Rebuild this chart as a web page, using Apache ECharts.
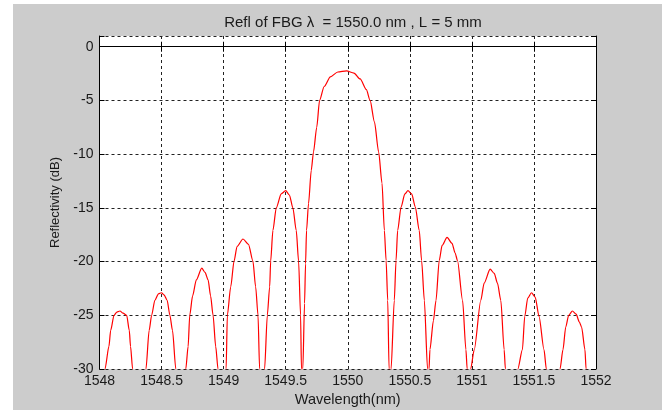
<!DOCTYPE html>
<html>
<head>
<meta charset="utf-8">
<script src="https://cdn.jsdelivr.net/npm/echarts@6/dist/echarts.min.js"></script>
<style>
  html, body { margin: 0; padding: 0; background: #fff; }
  #chart { position: absolute; left: 13px; top: 4px; width: 649px; height: 406px; }
</style>
</head>
<body>
<div id="chart"></div>
<script>
// wavelength (nm) and reflectivity (dB), read lobe by lobe off the plot;
// the -45 points are the nulls that fall below the -30 dB floor
var wavelength = [
  1548.02,
  1548.044, 1548.076, 1548.09, 1548.117, 1548.14, 1548.165, 1548.19, 1548.219, 1548.24, 1548.25, 1548.267,
  1548.32,
  1548.374, 1548.40, 1548.42, 1548.446, 1548.475, 1548.50, 1548.52, 1548.545, 1548.567, 1548.588, 1548.615,
  1548.655,
  1548.695, 1548.714, 1548.727, 1548.75, 1548.78, 1548.824, 1548.85, 1548.875, 1548.895, 1548.915, 1548.936, 1548.955,
  1548.985,
  1549.02, 1549.03, 1549.057, 1549.084, 1549.108, 1549.156, 1549.2, 1549.236, 1549.258, 1549.277, 1549.29,
  1549.31,
  1549.33, 1549.352, 1549.371, 1549.379, 1549.397, 1549.424, 1549.464, 1549.50, 1549.53, 1549.558, 1549.585, 1549.604, 1549.62, 1549.627,
  1549.632,
  1549.638, 1549.652, 1549.66, 1549.668, 1549.684, 1549.706, 1549.724, 1549.75, 1549.773, 1549.81, 1549.86, 1549.92,
  1549.99, 1550.05, 1550.10, 1550.15, 1550.18, 1550.215, 1550.249, 1550.276, 1550.295, 1550.309, 1550.322, 1550.333,
  1550.34,
  1550.349, 1550.375, 1550.389, 1550.402, 1550.43, 1550.46, 1550.485, 1550.515, 1550.544, 1550.576, 1550.595, 1550.617, 1550.643,
  1550.648,
  1550.655, 1550.662, 1550.69, 1550.711, 1550.737, 1550.76, 1550.80, 1550.84, 1550.865, 1550.884, 1550.925, 1550.952, 1550.962,
  1550.975,
  1550.99, 1551.019, 1551.072, 1551.099, 1551.147, 1551.18, 1551.206, 1551.233, 1551.26, 1551.27,
  1551.32,
  1551.37, 1551.407, 1551.426, 1551.45, 1551.48, 1551.51, 1551.541, 1551.581, 1551.60,
  1551.655,
  1551.71, 1551.734, 1551.756, 1551.78, 1551.81, 1551.84, 1551.865, 1551.884, 1551.911, 1551.92,
  1551.96
];
var reflectivity = [
  -45,
  -30, -27.9, -26.4, -25, -24.7, -24.6, -24.8, -25, -26.4, -27.9, -30,
  -45,
  -30, -26.4, -25, -23.6, -23.0, -22.9, -23.1, -23.6, -25, -26.4, -30,
  -45,
  -30, -27.9, -25, -23.2, -21.7, -20.6, -21.0, -21.7, -23.2, -25, -27.9, -30,
  -45,
  -30, -25, -22.35, -19.95, -18.6, -17.9, -18.4, -19.95, -22.35, -25, -30,
  -45,
  -30, -25, -22.35, -19.95, -17.1, -15.0, -13.7, -13.4, -13.8, -15.0, -17.1, -19.95, -25, -30,
  -45,
  -30, -23.9, -20.2, -17.1, -14.6, -11.5, -9.8, -7.5, -5.0, -3.7, -2.8, -2.35,
  -2.25, -2.45, -3.0, -4.0, -5.0, -7.0, -9.8, -12.7, -17.1, -19.9, -23.6, -30,
  -45,
  -30, -23.6, -19.9, -17.1, -14.9, -13.7, -13.4, -13.7, -14.9, -17.1, -19.9, -23.6, -30,
  -45,
  -30, -28.2, -25.5, -23.6, -19.9, -18.5, -17.75, -18.3, -19.2, -19.9, -23.6, -28.2, -30,
  -45,
  -30, -28.2, -23.6, -22.0, -20.7, -21.1, -22.0, -23.6, -28.2, -30,
  -45,
  -30, -28.2, -25.1, -23.4, -22.9, -23.3, -25.1, -28.2, -30,
  -45,
  -30, -28.2, -26.1, -25.0, -24.6, -24.9, -25.6, -26.1, -28.2, -30,
  -45
];

var points = wavelength.map(function (w, i) { return [w, reflectivity[i]]; });

var font = '"Liberation Sans", Arial, sans-serif';
var ink = '#1a1a1a';
var dash = { color: '#222', width: 1, type: [3, 3] };

var myChart = echarts.init(document.getElementById('chart'));

var option = {
  backgroundColor: '#cccccc',
  animation: false,
  title: {
    text: 'Refl of FBG \u03bb  = 1550.0 nm , L = 5 mm',
    left: 335,
    top: 6,
    textAlign: 'center',
    textStyle: { fontFamily: font, fontSize: 15, fontWeight: 'normal', color: ink }
  },
  grid: {
    left: 86.5, right: 66, top: 32, bottom: 41,
    outerBoundsMode: 'none',
    show: true, backgroundColor: '#fff', borderWidth: 0
  },
  xAxis: [
    {
      type: 'value', min: 1548, max: 1552, interval: 0.5,
      name: 'Wavelength(nm)', nameLocation: 'middle', nameGap: 20,
      nameTextStyle: { fontFamily: font, fontSize: 14.5, color: ink },
      axisLine: { lineStyle: { color: '#000', width: 1 } },
      axisTick: { inside: true, length: 5, lineStyle: { color: '#000' } },
      axisLabel: {
        fontFamily: font, fontSize: 14, color: ink, margin: 5,
        formatter: function (v) { return String(v); }
      },
      splitLine: { show: true, lineStyle: dash }
    },
    {
      type: 'value', position: 'top', min: 1548, max: 1552, interval: 0.5,
      axisLine: { lineStyle: { color: '#000', width: 1 } },
      axisTick: { inside: true, length: 5, lineStyle: { color: '#000' } },
      axisLabel: { show: false },
      splitLine: { show: false }
    }
  ],
  yAxis: [
    {
      type: 'value', min: -30, max: 1, interval: 5,
      name: 'Reflectivity (dB)', nameLocation: 'middle', nameGap: 38, nameRotate: 90,
      nameTextStyle: { fontFamily: font, fontSize: 13, color: ink },
      axisLine: { show: true, lineStyle: { color: '#000', width: 1 } },
      axisTick: { show: true, inside: true, length: 5, lineStyle: { color: '#000' } },
      axisLabel: {
        fontFamily: font, fontSize: 14, color: ink, margin: 6,
        formatter: function (v) { return v % 5 === 0 ? String(v) : ''; }
      },
      splitLine: { show: true, lineStyle: dash }
    },
    {
      type: 'value', position: 'right', min: -30, max: 1, interval: 5,
      axisLine: { show: true, lineStyle: { color: '#000', width: 1 } },
      axisTick: { show: true, inside: true, length: 5, lineStyle: { color: '#000' } },
      axisLabel: { show: false },
      splitLine: { show: false }
    }
  ],
  series: [
    {
      type: 'line',
      xAxisIndex: 0,
      yAxisIndex: 0,
      data: points,
      showSymbol: false,
      smooth: 0.25,
      smoothMonotone: 'x',
      clip: true,
      lineStyle: { color: '#ff0000', width: 1.2 }
    }
  ]
};

myChart.setOption(option);
</script>
</body>
</html>
